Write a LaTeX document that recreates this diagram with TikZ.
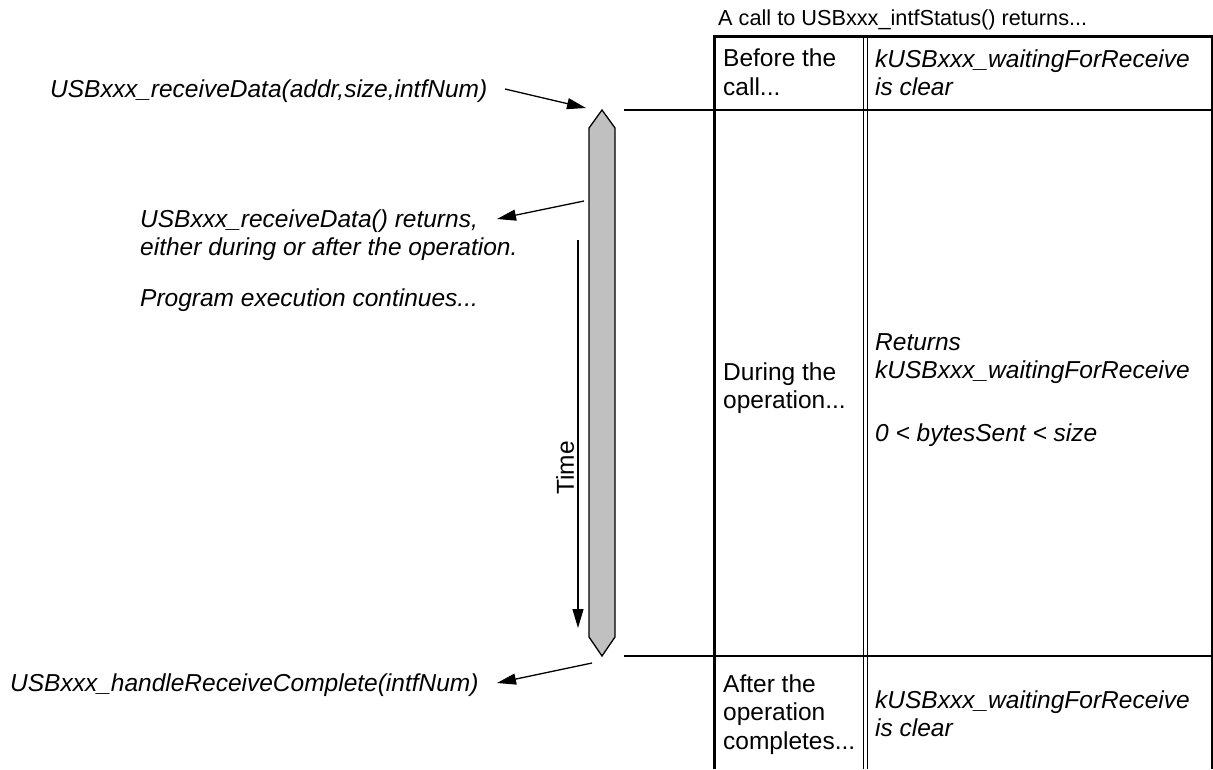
\documentclass[tikz,border=0pt]{standalone}
\usepackage{fontspec}
\setmainfont{Liberation Sans}
\usetikzlibrary{arrows.meta}
\definecolor{bargray}{RGB}{192,192,192}
\begin{document}
\begin{tikzpicture}[x=1pt,y=-1pt,
  lbl/.style={anchor=base west, inner sep=0pt, font=\fontsize{24.5}{28}\selectfont\itshape},
  cell/.style={anchor=base west, inner sep=0pt, font=\fontsize{24.5}{28}\selectfont},
  hdr/.style={anchor=base west, inner sep=0pt, font=\fontsize{21.7}{26}\selectfont},
  thinline/.style={line width=1.4pt},
  thickline/.style={line width=3pt},
  arr/.style={line width=1.3pt, -{Triangle[length=19pt,width=11pt]}},
]
\useasboundingbox (0,0) rectangle (1213,769);

% table
\draw[thickline] (713,36) -- (1213,36);
\draw[thickline] (714.5,36) -- (714.5,769);
\draw[line width=1.2pt] (863.5,36) -- (863.5,769);
\draw[line width=1.2pt] (867.5,36) -- (867.5,769);
\draw[line width=1.5pt] (1212,36) -- (1212,769);
\draw[thinline] (624,110) -- (1213,110);
\draw[thinline] (624,656) -- (1213,656);

% header
\node[hdr] (hdr) at (718,25) {A call to USBxxx\_intfStatus() returns...};

% row 1
\node[cell] (r1a) at (723,66) {Before the};
\node[cell] (r1b) at (723,95) {call...};
\node[lbl] (r1c) at (875,67) {kUSBxxx\_waitingForReceive};
\node[lbl] (r1d) at (875,95) {is clear};

% row 2
\node[cell] (r2a) at (723,380) {During the};
\node[cell] (r2b) at (723,408) {operation...};
\node[lbl] (r2c) at (875,350) {Returns};
\node[lbl] (r2d) at (875,378) {kUSBxxx\_waitingForReceive};
\node[lbl] (r2e) at (875,441) {0 < bytesSent < size};

% row 3
\node[cell] (r3a) at (723,692) {After the};
\node[cell] (r3b) at (723,720) {operation};
\node[cell] (r3c) at (723,749) {completes...};
\node[lbl] (r3d) at (875,708) {kUSBxxx\_waitingForReceive};
\node[lbl] (r3e) at (875,736) {is clear};

% bar
\draw[line width=1.3pt, fill=bargray] (602,110) -- (615,128) -- (615,637) -- (602,656) -- (589,637) -- (589,128) -- cycle;

% time arrow
\coordinate (ts) at (578,240);
\coordinate (te) at (578,628);
\draw[arr] (ts) -- (te);
\node[rotate=90, inner sep=0pt, font=\fontsize{24.5}{28}\selectfont] (time) at (565,468) {Time};

% left labels
\node[lbl] (l1) at (50,97) {USBxxx\_receiveData(addr,size,intfNum)};
\node[lbl] (l2a) at (140,227) {USBxxx\_receiveData() returns,};
\node[lbl] (l2b) at (140,255) {either during or after the operation.};
\node[lbl] (l3) at (140,306) {Program execution continues...};
\node[lbl] (l4) at (10,691) {USBxxx\_handleReceiveComplete(intfNum)};

% arrows
\coordinate (a1s) at (505,89);
\coordinate (a1e) at (586,108);
\coordinate (a2s) at (584,201);
\coordinate (a2e) at (497,219);
\coordinate (a3s) at (592,663);
\coordinate (a3e) at (497,683);
\draw[arr] (a1s) -- (a1e);
\draw[arr] (a2s) -- (a2e);
\draw[arr] (a3s) -- (a3e);
\end{tikzpicture}
\end{document}
